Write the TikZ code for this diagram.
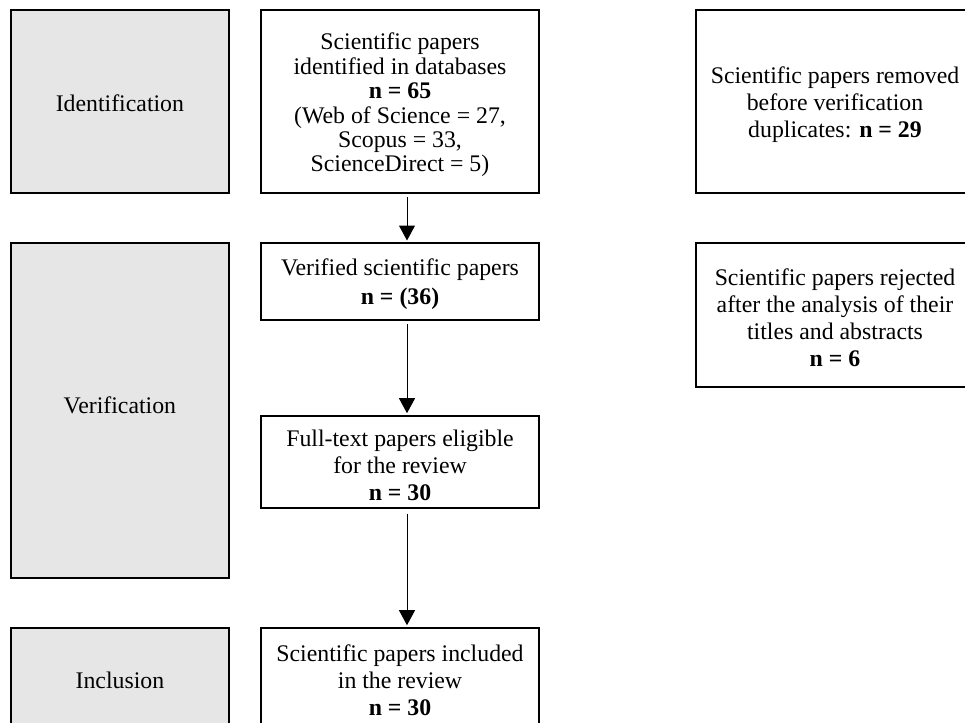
\documentclass[tikz,border=0pt]{standalone}
\usepackage{fontspec}
\setmainfont{Liberation Serif}
\usetikzlibrary{arrows.meta}
\definecolor{phasegray}{HTML}{E6E6E6}
\tikzset{
  box/.style={draw=black, line width=2pt, inner sep=0pt},
  phase/.style={box, fill=phasegray, minimum width=218pt},
  mid/.style={box, fill=white, minimum width=278pt},
  txt/.style={align=center, inner sep=0pt, font=\fontsize{23.8}{27}\selectfont},
  flow/.style={line width=1pt, -{Triangle[length=15pt,width=16pt]}, shorten >=1.5pt}
}
\begin{document}
\begin{tikzpicture}[x=1pt,y=-1pt]
\useasboundingbox (0,0) rectangle (965,722);
\clip (0,0) rectangle (965,722);
% phase boxes
\node[phase, minimum height=183pt] (idf) at (119.9,101.5) {};
\node[txt] (idft) at (119.9,103.5) {Identification};
\node[phase, minimum height=334.7pt] (ver) at (119.9,410.3) {};
\node[txt] (vert) at (119.9,405.5) {Verification};
\node[phase, minimum height=104.6pt] (inc) at (119.9,680) {};
\node[txt] (inct) at (119.9,680.5) {Inclusion};
% middle column
\node[mid, minimum height=183pt] (m1) at (400,101.5) {};
\node[txt, font=\fontsize{23.8}{24.4}\selectfont] (m1t) at (400,105)
  {Scientific papers\\identified in databases\\\textbf{n = 65}\\(Web of Science = 27,\\Scopus = 33,\\ScienceDirect = 5)};
\node[mid, minimum height=77pt] (m2) at (400,281.5) {};
\node[txt, font=\fontsize{23.8}{28.5}\selectfont] (m2t) at (400,284)
  {Verified scientific papers\\\textbf{n = (36)}};
\node[mid, minimum height=92pt] (m3) at (400,461.7) {};
\node[txt] (m3t) at (400,465)
  {Full-text papers eligible\\for the review\\\textbf{n = 30}};
\node[mid, minimum height=104.6pt] (m4) at (400,680) {};
\node[txt] (m4t) at (400,680.5)
  {Scientific papers included\\in the review\\\textbf{n = 30}};
% right column
\node[mid, minimum height=183pt] (r1) at (835,101.5) {};
\node[txt] (r1t) at (835,105)
  {Scientific papers removed\\before verification\\duplicates: \textbf{n = 29}};
\node[mid, minimum height=144pt] (r2) at (835,315) {};
\node[txt] (r2t) at (835,318)
  {Scientific papers rejected\\after the analysis of their\\titles and abstracts\\\textbf{n = 6}};
% arrows
\coordinate (ax) at (407,0);
\draw[flow] ([yshift=-3pt]m1.south -| ax) -- (m2.north -| ax);
\draw[flow] ([yshift=-3pt]m2.south -| ax) -- (m3.north -| ax);
\draw[flow] ([yshift=-5pt]m3.south -| ax) -- (m4.north -| ax);
\end{tikzpicture}
\end{document}
